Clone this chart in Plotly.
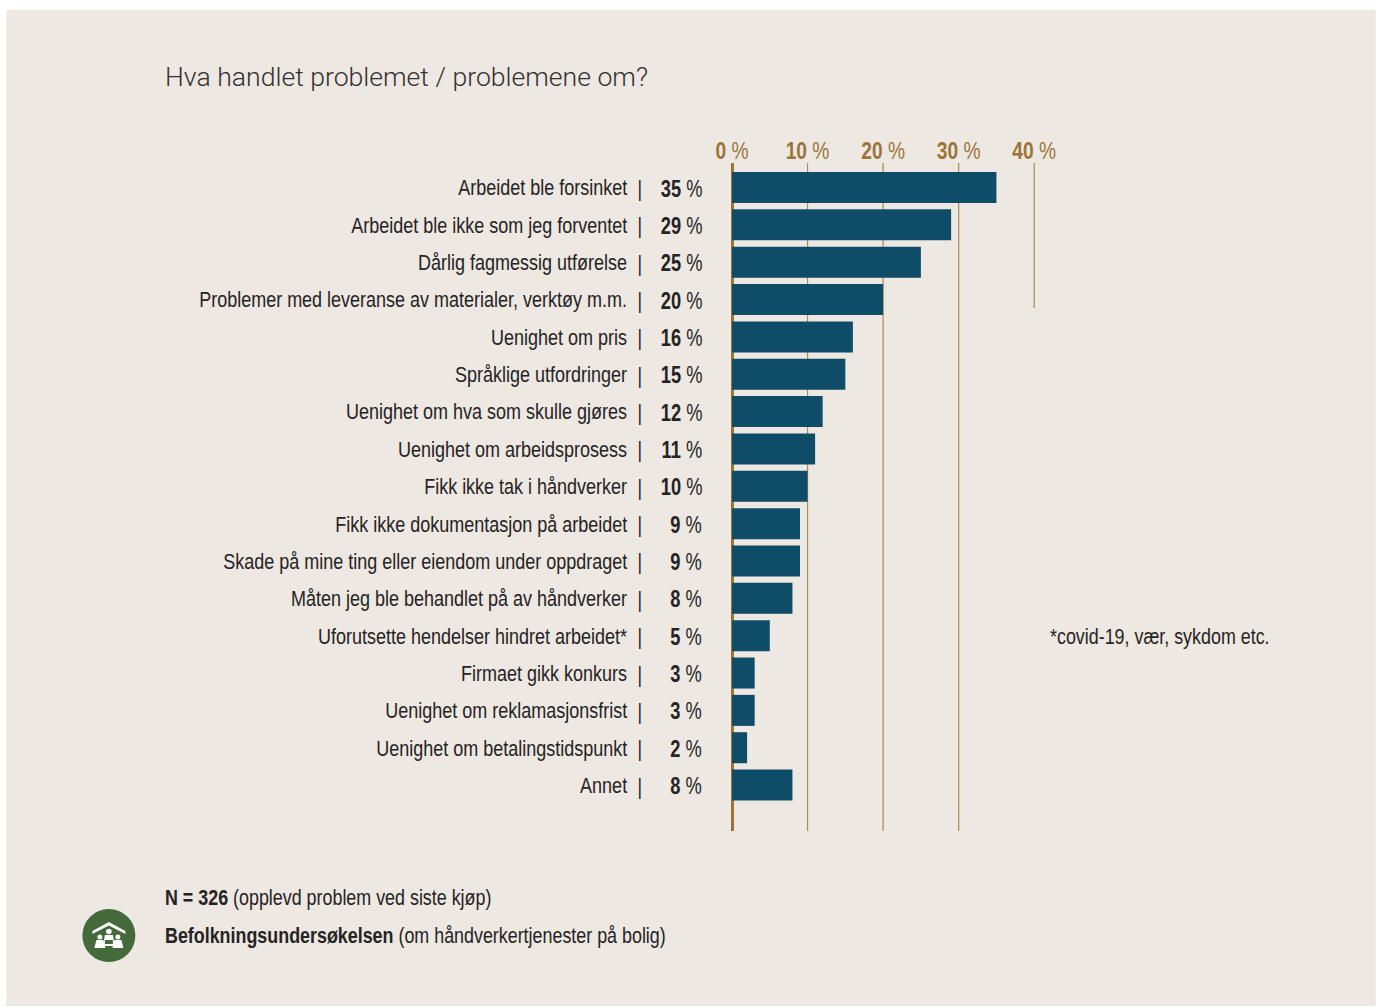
import plotly.graph_objects as go

categories = [
    "Arbeidet ble forsinket",
    "Arbeidet ble ikke som jeg forventet",
    "Dårlig fagmessig utførelse",
    "Problemer med leveranse av materialer, verktøy m.m.",
    "Uenighet om pris",
    "Språklige utfordringer",
    "Uenighet om hva som skulle gjøres",
    "Uenighet om arbeidsprosess",
    "Fikk ikke tak i håndverker",
    "Fikk ikke dokumentasjon på arbeidet",
    "Skade på mine ting eller eiendom under oppdraget",
    "Måten jeg ble behandlet på av håndverker",
    "Uforutsette hendelser hindret arbeidet*",
    "Firmaet gikk konkurs",
    "Uenighet om reklamasjonsfrist",
    "Uenighet om betalingstidspunkt",
    "Annet",
]
values = [35, 29, 25, 20, 16, 15, 12, 11, 10, 9, 9, 8, 5, 3, 3, 2, 8]
tick_values = [0, 10, 20, 30, 40]

W, H = 1376, 1007
LEFT, RIGHT, TOP, BOTTOM = 732, 1072.2, 163, 831
INK = "#262324"
GOLD = "#9C7437"
BLUE = "#0F4C68"
PANEL = "#EDE8E2"
GREEN = "#44693A"
LABEL_FONT = "Liberation Sans, Arial, sans-serif"
TITLE_FONT = "Roboto, sans-serif"


def px(x):
    return (x - LEFT) / (RIGHT - LEFT)


def py(y):
    return (BOTTOM - y) / (BOTTOM - TOP)


def page_text(x, y, text, size=22.5, font=LABEL_FONT, color=INK, weight=None):
    return dict(
        xref="paper", yref="paper", x=px(x), y=py(y), text=text, showarrow=False,
        xanchor="left", yanchor="middle", align="left",
        font=dict(family=font, size=size, color=color, weight=weight),
    )


fig = go.Figure(
    go.Bar(
        x=values, y=categories, orientation="h",
        marker=dict(color=BLUE, line=dict(width=0)),
        hoverinfo="x+y",
    )
)

annotations = []
for cat, val in zip(categories, values):
    annotations.append(dict(
        xref="x", yref="y", x=0, y=cat, xshift=-92, yshift=-1, text="|", showarrow=False,
        xanchor="center", yanchor="middle",
        font=dict(family=LABEL_FONT, size=22, color=INK),
    ))
    annotations.append(dict(
        xref="x", yref="y", x=0, y=cat, xshift=-28, yshift=-1, text=f"<b>{val}</b> %",
        showarrow=False, xanchor="right", yanchor="middle",
        font=dict(family=LABEL_FONT, size=23, color=INK),
    ))

annotations += [
    page_text(163, 76, "Hva handlet problemet / problemene om?", size=26.6, font=TITLE_FONT, color="#333031", weight=300),
    page_text(1048, 636, "*covid-19, vær, sykdom etc."),
    page_text(163, 897, "<b>N = 326</b> (opplevd problem ved siste kjøp)"),
    page_text(163, 935, "<b>Befolkningsundersøkelsen</b> (om håndverkertjenester på bolig)"),
]

# Vertical reference lines; the 40 % line stops partway down the chart
shapes = [dict(
    type="rect", xref="paper", yref="paper", x0=px(6), x1=px(1376), y0=py(10), y1=py(1006),
    fillcolor=PANEL, line_width=0, layer="below",
)]
for t in tick_values:
    if t == 0:
        # Baseline is thicker and sits on the plot edge, so it is placed unclipped
        shapes.append(dict(
            type="line", xref="paper", yref="paper", x0=px(732.5), x1=px(732.5), y0=0, y1=1,
            line=dict(color=GOLD, width=3), layer="below",
        ))
    else:
        shapes.append(dict(
            type="line", xref="x", yref="paper", x0=t, x1=t, y0=py(308) if t == 40 else 0, y1=1,
            line=dict(color="#A98A5C", width=1.2), layer="below",
        ))


def circle(cx, cy, r, color):
    return dict(type="circle", xref="paper", yref="paper", x0=px(cx - r), x1=px(cx + r),
                y0=py(cy + r), y1=py(cy - r), fillcolor=color, line_width=0, layer="above")


def polygon(points, color):
    path = "M " + " L ".join(f"{px(x):.5f},{py(y):.5f}" for x, y in points) + " Z"
    return dict(type="path", xref="paper", yref="paper", path=path, fillcolor=color,
                line_width=0, layer="above")


# Household emblem in the footer: green disc, roof and three figures
shapes.append(circle(108.5, 935.5, 26.5, GREEN))
shapes.append(polygon([(92, 931), (108.5, 922), (125, 931), (125, 934), (108.5, 925.5), (92, 934)], "white"))
for cx, cy, r, w, top, bottom in [(99.5, 937, 2.5, 5.5, 940, 948), (108.5, 931.5, 2.8, 6, 935, 946), (117.5, 937, 2.5, 5.5, 940, 948)]:
    shapes.append(circle(cx, cy, r, "white"))
    shapes.append(polygon([(cx - w + 2, top), (cx + w - 2, top), (cx + w, bottom), (cx - w, bottom)], "white"))
shapes.append(polygon([(104.5, 940), (112.5, 940), (112.5, 944), (104.5, 944)], GREEN))

fig.update_layout(
    width=W, height=H,
    margin=dict(l=LEFT, r=W - RIGHT, t=TOP, b=H - BOTTOM, autoexpand=False),
    paper_bgcolor="white", plot_bgcolor="rgba(0,0,0,0)",
    showlegend=False, bargap=0.17,
    annotations=annotations, shapes=shapes,
    xaxis=dict(
        side="top", range=[0, 45], tickmode="array", tickvals=tick_values,
        ticktext=[f"<b>{t}</b> %" for t in tick_values],
        tickfont=dict(family=LABEL_FONT, size=24, color=GOLD),
        showgrid=False, zeroline=False, showline=False, ticks="", ticklabelstandoff=-2,
    ),
    yaxis=dict(
        type="category", categoryorder="array", categoryarray=categories,
        range=[17.23, -0.656],
        tickfont=dict(family=LABEL_FONT, size=22.5, color=INK),
        showgrid=False, zeroline=False, showline=False, ticks="", ticklabelstandoff=104,
    ),
)

# No condensed face is installed, so the label text is narrowed horizontally
# around its own anchor edge once the chart has been drawn.
CONDENSE_LABELS = """
var gd = document.getElementById('{plot_id}');
function condense(el, anchor, scale, dy) {
    var box = el.getBBox();
    var a = anchor === 'left' ? box.x : anchor === 'right' ? box.x + box.width : box.x + box.width / 2;
    var base = el.getAttribute('transform') || '';
    el.setAttribute('transform', base + ' translate(' + a + ',' + dy + ') scale(' + scale + ',1) translate(' + (-a) + ',0)');
}
gd.querySelectorAll('.ytick text').forEach(function (el) { condense(el, 'right', 0.8, 0); });
gd.querySelectorAll('.xtick text').forEach(function (el) { condense(el, 'center', 0.8, 0); });
gd.querySelectorAll('g.annotation').forEach(function (g) {
    var spec = gd.layout.annotations[+g.getAttribute('data-index')];
    if (spec.font.family.indexOf('Roboto') === 0) return;
    condense(g.querySelector('text'), spec.xanchor, 0.795, 0);
});
"""

fig.write_html("out.html", post_script=CONDENSE_LABELS)
